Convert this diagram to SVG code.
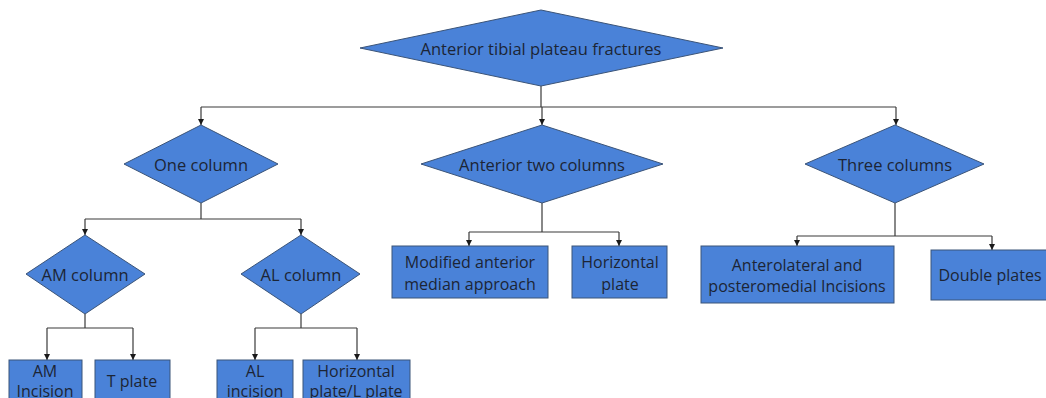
<svg xmlns="http://www.w3.org/2000/svg" width="1046" height="398" viewBox="0 0 1046 398">
<style>
.n{fill:#4a82d8;stroke:#3b5478;stroke-width:1}
.t{font-family:"Open Sans","Noto Sans",sans-serif;font-size:16px;fill:#1c2535;text-anchor:middle;dominant-baseline:central}
.d{font-size:16.5px}
.c{fill:none;stroke:#3a3a3a;stroke-width:1.2}
</style>
<defs>
<marker id="a" viewBox="0 0 8 8" refX="8" refY="4" markerWidth="6" markerHeight="6" markerUnits="userSpaceOnUse" orient="auto">
<path d="M0,0L8,4L0,8z" fill="#1a1a1a"/>
</marker>
</defs>
<rect width="1046" height="398" fill="#fff"/>
<g id="connectors">
<path class="c" d="M541,86V107M201,107H896"/>
<path class="c" d="M201,107V125" marker-end="url(#a)"/>
<path class="c" d="M542,107V125" marker-end="url(#a)"/>
<path class="c" d="M896,107V125" marker-end="url(#a)"/>
<path class="c" d="M201,203V219M85,219H301"/>
<path class="c" d="M85,219V235" marker-end="url(#a)"/>
<path class="c" d="M301,219V235" marker-end="url(#a)"/>
<path class="c" d="M542,203V232M469,232H619"/>
<path class="c" d="M469,232V246" marker-end="url(#a)"/>
<path class="c" d="M619,232V246" marker-end="url(#a)"/>
<path class="c" d="M895,203V236M797,236H992"/>
<path class="c" d="M797,236V246" marker-end="url(#a)"/>
<path class="c" d="M992,236V250" marker-end="url(#a)"/>
<path class="c" d="M85,314V328M47,328H133"/>
<path class="c" d="M47,328V360" marker-end="url(#a)"/>
<path class="c" d="M133,328V360" marker-end="url(#a)"/>
<path class="c" d="M301,314V328M255,328H357"/>
<path class="c" d="M255,328V360" marker-end="url(#a)"/>
<path class="c" d="M357,328V360" marker-end="url(#a)"/>
</g>
<g id="root"><polygon class="n" points="360,48 541,10 723,48 541,86"/><text class="t d" x="541" y="48">Anterior tibial plateau fractures</text></g>
<g id="one"><polygon class="n" points="124,164 201,125 278,164 201,203"/><text class="t d" x="201" y="164">One column</text></g>
<g id="two"><polygon class="n" points="421,164 542,125 663,164 542,203"/><text class="t d" x="542" y="164">Anterior two columns</text></g>
<g id="three"><polygon class="n" points="805,164 895,125 984,164 895,203"/><text class="t d" x="895" y="164">Three columns</text></g>
<g id="am"><polygon class="n" points="26,274 85,235 145,274 85,314"/><text class="t d" x="85" y="274">AM column</text></g>
<g id="al"><polygon class="n" points="241,274 301,235 360,274 301,314"/><text class="t d" x="301" y="274">AL column</text></g>
<g id="modified"><rect class="n" x="392" y="246" width="156" height="52"/><text class="t" x="470" y="262">Modified anterior</text><text class="t" x="470" y="284">median approach</text></g>
<g id="hplate"><rect class="n" x="572" y="246" width="95" height="52"/><text class="t" x="620" y="262">Horizontal</text><text class="t" x="620" y="284">plate</text></g>
<g id="antero"><rect class="n" x="701" y="246" width="193" height="57"/><text class="t" x="797" y="265">Anterolateral and</text><text class="t" x="797" y="286">posteromedial Incisions</text></g>
<g id="double"><rect class="n" x="931" y="250" width="116" height="50"/><text class="t" x="990" y="275">Double plates</text></g>
<g id="amInc"><rect class="n" x="9" y="360" width="73" height="50"/><text class="t" x="45" y="371">AM</text><text class="t" x="45" y="391">Incision</text></g>
<g id="tplate"><rect class="n" x="95" y="360" width="75" height="50"/><text class="t" x="132" y="381">T plate</text></g>
<g id="alInc"><rect class="n" x="217" y="360" width="76" height="50"/><text class="t" x="255" y="371">AL</text><text class="t" x="255" y="391">incision</text></g>
<g id="hlplate"><rect class="n" x="303" y="360" width="107" height="50"/><text class="t" x="356" y="371">Horizontal</text><text class="t" x="356" y="391">plate/L plate</text></g>
</svg>
